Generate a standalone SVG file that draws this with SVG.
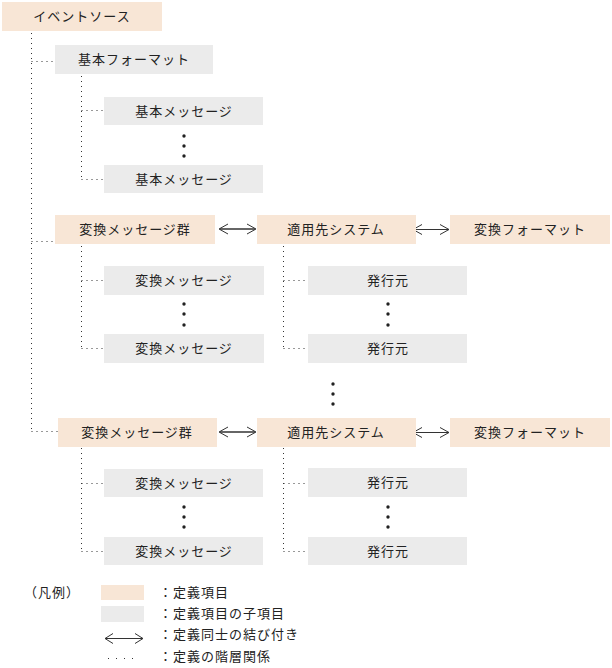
<svg xmlns="http://www.w3.org/2000/svg" width="612" height="668" viewBox="0 0 612 668">
<style>
text{font-family:"Noto Sans CJK JP","Noto Sans CJK SC",sans-serif;font-size:13px;fill:#222;letter-spacing:1px}
.c{text-anchor:middle;dominant-baseline:central}
.def{fill:#f8e6d6}
.sub{fill:#ebebeb}
.dot{fill:none;stroke:#333;stroke-width:1;stroke-dasharray:1 4}
.dotl{fill:none;stroke:#333;stroke-width:1;stroke-dasharray:1 7}
.arr{fill:none;stroke:#333;stroke-width:1}
.arrline{fill:none;stroke:#666;stroke-width:2}
.el{fill:#222}
</style>
<g id="connectors">
<path class="dot" d="M31.5,33V431M31.5,61.5H55M31.5,241.5H55M31.5,431.5H58"/>
<path class="dot" d="M81.5,76V179M81.5,110.5H104M81.5,179.5H104"/>
<path class="dot" d="M81.5,246V348M81.5,280.5H104M81.5,348.5H104"/>
<path class="dot" d="M283.5,246V348M283.5,280.5H308M283.5,348.5H308"/>
<path class="dot" d="M81.5,448V551M81.5,483.5H104M81.5,551.5H104"/>
<path class="dot" d="M283.5,448V551M283.5,483.5H308M283.5,551.5H308"/>
<g id="arrows">
<path class="arrline" d="M220,229H255"/>
<path class="arr" d="M228,224L219,229L228,234M247,224L256,229L247,234"/>
<path class="arr" d="M413,229.5H449M422,224.5L413,229.5L422,234.5M440,224.5L449,229.5L440,234.5"/>
<path class="arrline" d="M220,432H255"/>
<path class="arr" d="M228,427L219,432L228,437M247,427L256,432L247,437"/>
<path class="arr" d="M413,432.5H449M422,427.5L413,432.5L422,437.5M440,427.5L449,432.5L440,437.5"/>
</g>
</g>
<g id="n-eventsource"><rect class="def" x="2" y="2" width="160" height="29"/><text class="c" x="82" y="15.5">イベントソース</text></g>
<g id="n-basicformat"><rect class="sub" x="55" y="45" width="158" height="29"/><text class="c" x="134" y="58.5">基本フォーマット</text></g>
<g id="n-basicmsg1"><rect class="sub" x="104" y="97" width="159" height="28"/><text class="c" x="184" y="110">基本メッセージ</text></g>
<g id="n-basicmsg2"><rect class="sub" x="104" y="165" width="159" height="28"/><text class="c" x="184" y="178">基本メッセージ</text></g>
<g id="ellipsis-basic"><circle class="el" cx="184" cy="136" r="1.7"/><circle class="el" cx="184" cy="146" r="1.7"/><circle class="el" cx="184" cy="156" r="1.7"/></g>

<g id="n-convgroup1"><rect class="def" x="55" y="215" width="160" height="29"/><text class="c" x="135" y="228.5">変換メッセージ群</text></g>
<g id="n-target1"><rect class="def" x="257" y="215" width="159" height="29"/><text class="c" x="336" y="228.5">適用先システム</text></g>
<g id="n-convformat1"><rect class="def" x="450" y="215" width="160" height="29"/><text class="c" x="530" y="228.5">変換フォーマット</text></g>
<g id="n-convmsg1a"><rect class="sub" x="104" y="266" width="160" height="29"/><text class="c" x="184" y="279.5">変換メッセージ</text></g>
<g id="n-convmsg1b"><rect class="sub" x="104" y="334" width="160" height="29"/><text class="c" x="184" y="347.5">変換メッセージ</text></g>
<g id="n-issuer1a"><rect class="sub" x="308" y="266" width="159" height="29"/><text class="c" x="388" y="279.5">発行元</text></g>
<g id="n-issuer1b"><rect class="sub" x="308" y="334" width="159" height="29"/><text class="c" x="388" y="347.5">発行元</text></g>
<g id="ellipsis-1"><circle class="el" cx="184" cy="304" r="1.7"/><circle class="el" cx="184" cy="314" r="1.7"/><circle class="el" cx="184" cy="325" r="1.7"/><circle class="el" cx="388" cy="304" r="1.7"/><circle class="el" cx="388" cy="314" r="1.7"/><circle class="el" cx="388" cy="325" r="1.7"/></g>
<g id="ellipsis-mid"><circle class="el" cx="333" cy="384" r="1.7"/><circle class="el" cx="333" cy="394" r="1.7"/><circle class="el" cx="333" cy="404" r="1.7"/></g>

<g id="n-convgroup2"><rect class="def" x="58" y="418" width="159" height="29"/><text class="c" x="137" y="431.5">変換メッセージ群</text></g>
<g id="n-target2"><rect class="def" x="257" y="418" width="159" height="29"/><text class="c" x="336" y="431.5">適用先システム</text></g>
<g id="n-convformat2"><rect class="def" x="450" y="418" width="160" height="29"/><text class="c" x="530" y="431.5">変換フォーマット</text></g>
<g id="n-convmsg2a"><rect class="sub" x="104" y="469" width="159" height="28"/><text class="c" x="184" y="482">変換メッセージ</text></g>
<g id="n-convmsg2b"><rect class="sub" x="104" y="537" width="159" height="28"/><text class="c" x="184" y="550">変換メッセージ</text></g>
<g id="n-issuer2a"><rect class="sub" x="308" y="468" width="159" height="29"/><text class="c" x="388" y="481.5">発行元</text></g>
<g id="n-issuer2b"><rect class="sub" x="308" y="537" width="159" height="28"/><text class="c" x="388" y="550">発行元</text></g>
<g id="ellipsis-2"><circle class="el" cx="184" cy="507" r="1.7"/><circle class="el" cx="184" cy="517" r="1.7"/><circle class="el" cx="184" cy="527" r="1.7"/><circle class="el" cx="388" cy="507" r="1.7"/><circle class="el" cx="388" cy="517" r="1.7"/><circle class="el" cx="388" cy="527" r="1.7"/></g>

<g id="legend">
<text x="24" y="597">（凡例）</text>
<rect class="def" x="101" y="585" width="43" height="15"/>
<rect class="sub" x="101" y="606" width="43" height="16"/>
<path class="arr" d="M105,638.5H143M113,633.5L105,638.5L113,643.5M135,633.5L143,638.5L135,643.5"/>
<path class="dotl" d="M108,658.5H133"/>
<text x="159" y="597">：定義項目</text>
<text x="159" y="618">：定義項目の子項目</text>
<text x="159" y="639">：定義同士の結び付き</text>
<text x="159" y="661">：定義の階層関係</text>
</g>
</svg>
